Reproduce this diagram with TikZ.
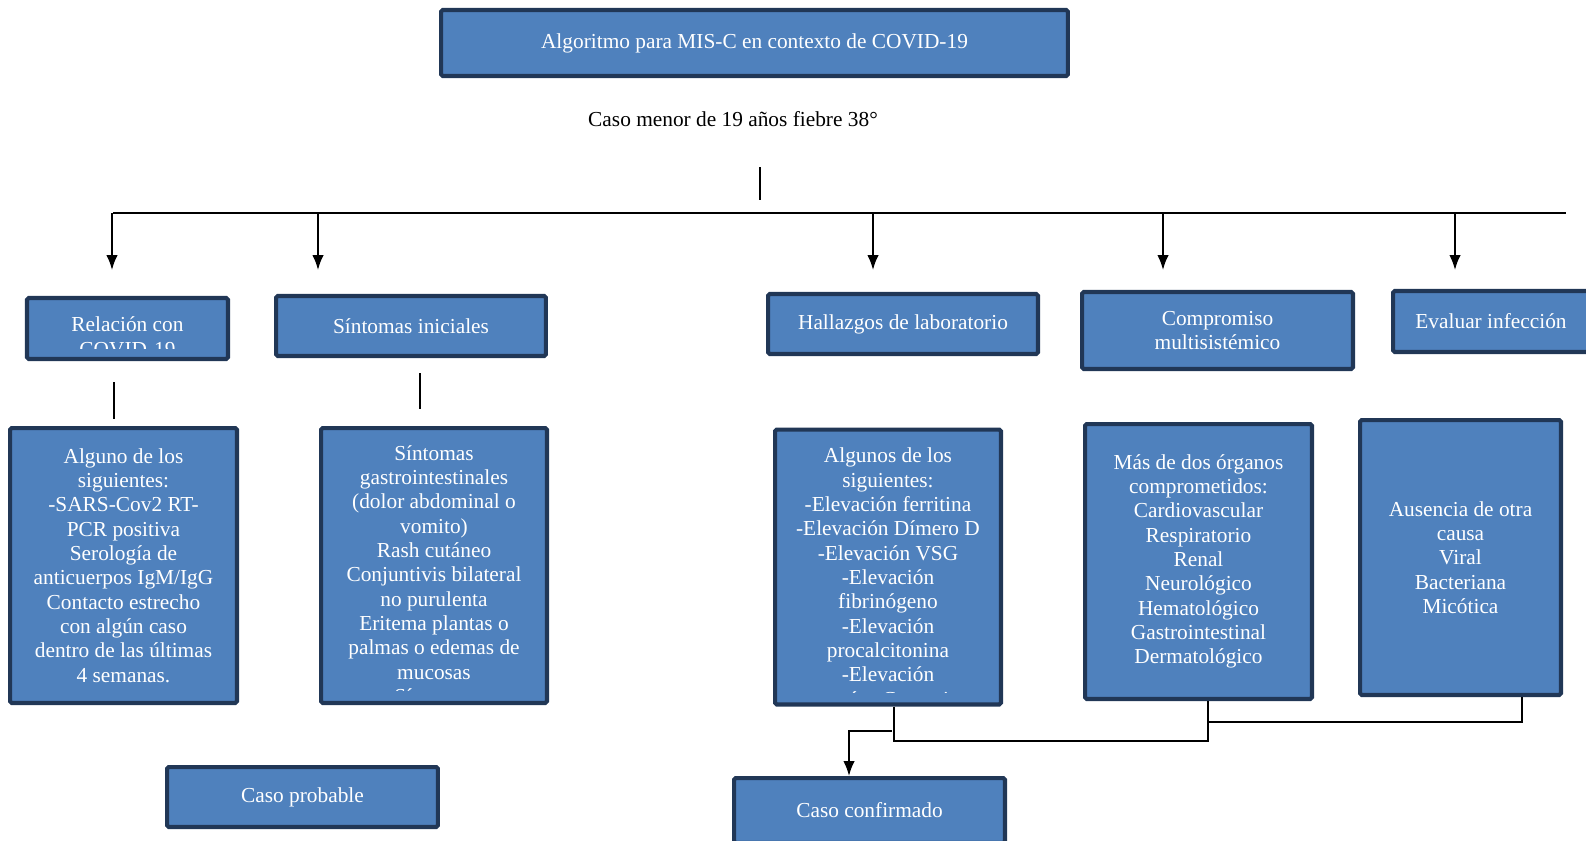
\documentclass[tikz,border=0pt]{standalone}
\usepackage{fontspec}
\setmainfont{Liberation Serif}
\usetikzlibrary{arrows.meta}
\definecolor{boxfill}{RGB}{79,129,189}
\definecolor{boxline}{RGB}{33,55,86}
\newcommand{\boxfont}{\fontsize{12.15}{13.85}\selectfont}

\begin{document}
\begin{tikzpicture}[x=0.02cm, y=-0.02cm,
  box/.style={draw=boxline, fill=boxfill, line width=2.3pt, rounded corners=1pt,
    text=white, align=center, font=\boxfont, inner sep=0pt},
  cliptext/.style n args={3}{path picture={
    \clip ([shift={(4pt,#2)}]path picture bounding box.south west)
      rectangle ([shift={(-4pt,-4pt)}]path picture bounding box.north east);
    \node[anchor=north, inner sep=0pt, text=white, align=center, font=\boxfont]
      at ([yshift=-#1]path picture bounding box.north) {#3};}},
  line/.style={line width=1.1pt},
  arr/.style={line width=1pt, -{Latex[length=3mm,width=2.3mm]}},
  bus/.style={line width=1.6pt}
]
\useasboundingbox (0,0) rectangle (1586,840);
\clip (0,0) rectangle (1586,840);

% titulo
\node[box, minimum width=12.54cm, minimum height=1.32cm] (title) at (754.5,43)
  {Algoritmo para MIS-C en contexto de COVID-19};
\node[font=\boxfont] (caso) at (733,119) {Caso menor de 19 años fiebre 38°};

% criterios
\node[box, minimum width=4.02cm, minimum height=1.22cm,
  cliptext={3.5pt}{5.7pt}{Relación con\\COVID-19}] (rel) at (127.5,328.5) {};
\node[box, minimum width=5.4cm, minimum height=1.2cm] (sint) at (411,326) {Síntomas iniciales};
\node[box, minimum width=5.4cm, minimum height=1.2cm] (lab) at (903,324) {Hallazgos de laboratorio};
\node[box, minimum width=5.42cm, minimum height=1.54cm] (comp) at (1217.5,330.5) {Compromiso\\multisistémico};
\node[box, minimum width=3.92cm, minimum height=1.22cm] (eval) at (1491,321.5) {Evaluar infección};

% detalle
\node[box, minimum width=4.54cm, minimum height=5.5cm] (relA) at (123.5,565.5)
  {Alguno de los\\siguientes:\\-SARS-Cov2 RT-\\PCR positiva\\Serología de\\anticuerpos IgM/IgG\\Contacto estrecho\\con algún caso\\dentro de las últimas\\4 semanas.};
\node[box, minimum width=4.52cm, minimum height=5.5cm,
  cliptext={4pt}{7pt}{Síntomas\\gastrointestinales\\(dolor abdominal o\\vomito)\\Rash cutáneo\\Conjuntivis bilateral\\no purulenta\\Eritema plantas o\\palmas o edemas de\\mucosas\\Síntomas}] (sintB) at (434,565.5) {};
\node[box, minimum width=4.52cm, minimum height=5.5cm,
  cliptext={5.8pt}{7pt}{Algunos de los\\siguientes:\\-Elevación ferritina\\-Elevación Dímero D\\-Elevación VSG\\-Elevación\\fibrinógeno\\-Elevación\\procalcitonina\\-Elevación\\proteína C reactiva}] (labC) at (888,567) {};
\node[box, minimum width=4.54cm, minimum height=5.5cm] (compD) at (1198.5,561.5)
  {Más de dos órganos\\comprometidos:\\Cardiovascular\\Respiratorio\\Renal\\Neurológico\\Hematológico\\Gastrointestinal\\Dermatológico};
\node[box, minimum width=4.02cm, minimum height=5.5cm] (evalE) at (1460.5,557.5)
  {Ausencia de otra\\causa\\Viral\\Bacteriana\\Micótica};

% resultado
\node[box, minimum width=5.42cm, minimum height=1.2cm] (prob) at (302.5,797) {Caso probable};
\node[box, minimum width=5.42cm, minimum height=1.3cm] (conf) at (869.5,810.5) {Caso confirmado};

% conectores
\coordinate (stemA) at (760,167);
\coordinate (stemB) at (760,200);
\draw[line] (stemA) -- (stemB);
\coordinate (busL) at (113,213);
\coordinate (busR) at (1566,213);
\draw[bus] (busL) -- (busR);
\foreach \x [count=\i] in {112,318,873,1163,1455}{
  \coordinate (tip\i) at (\x,270);
  \draw[arr] (tip\i |- busL) -- (tip\i);
}
\coordinate (s1a) at (114,382);
\coordinate (s1b) at (114,419);
\coordinate (s2a) at (420,373);
\coordinate (s2b) at (420,409);
\draw[line] (s1a) -- (s1b);
\draw[line] (s2a) -- (s2b);

\coordinate (j1) at (894,741);
\coordinate (j2) at (1208,741);
\coordinate (j3) at (1208,722);
\coordinate (j4) at (1522,722);
\draw[line] (labC.south -| j1) -- (j1) -- (j2) -- (compD.south -| j2);
\draw[line] (j3) -- (j4) -- (evalE.south -| j4);
\coordinate (k1) at (892,731);
\coordinate (k2) at (849,731);
\draw[arr] (k1) -- (k2) -- (conf.north -| k2);
\end{tikzpicture}
\end{document}
